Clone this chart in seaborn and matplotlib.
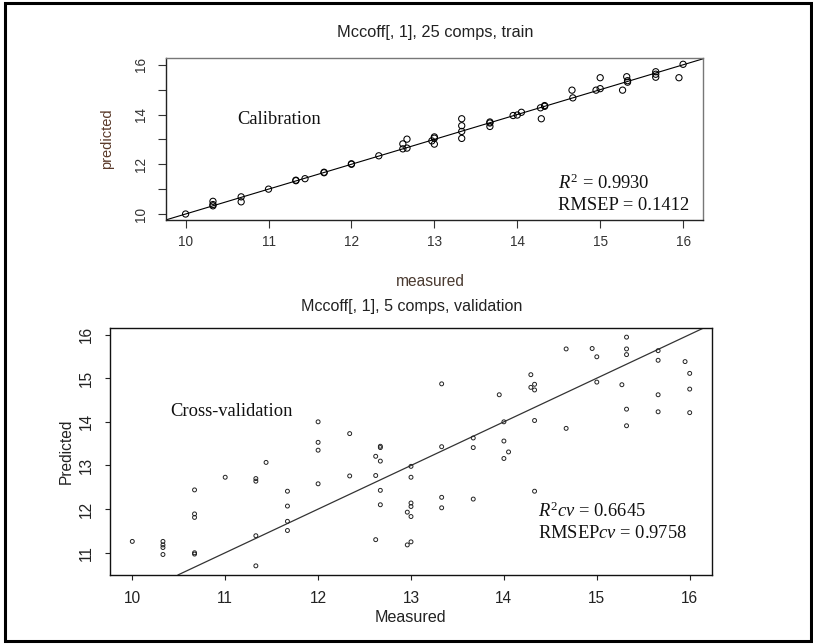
import numpy as np
import pandas as pd
import matplotlib
matplotlib.use("Agg")
import matplotlib.pyplot as plt
from matplotlib.patches import Rectangle
import seaborn as sns

# ---------------- data ----------------
cal_measured = [10.0, 10.33, 10.33, 10.33, 10.67, 10.67, 11.0, 11.33, 11.33, 11.44,
                11.67, 11.67, 12.0, 12.0, 12.33, 12.62, 12.62, 12.67, 12.67, 12.97,
                13.0, 13.0, 13.0, 13.33, 13.33, 13.33, 13.33, 13.67, 13.67, 13.67,
                13.95, 14.0, 14.05, 14.28, 14.33, 14.33, 14.29, 14.66, 14.67, 14.95,
                15.0, 15.0, 15.27, 15.32, 15.33, 15.33, 15.67, 15.67, 15.67, 15.95, 16.0]
cal_predicted = [10.0, 10.51, 10.33, 10.38, 10.69, 10.49, 11.0, 11.34, 11.36, 11.42,
                 11.68, 11.66, 12.0, 12.02, 12.34, 12.82, 12.62, 13.01, 12.65, 12.94,
                 13.05, 12.81, 13.1, 13.83, 13.55, 13.32, 13.04, 13.70, 13.52, 13.66,
                 13.96, 13.98, 14.09, 14.27, 14.36, 14.33, 13.83, 14.98, 14.67, 14.98,
                 15.04, 15.48, 14.98, 15.52, 15.36, 15.30, 15.72, 15.50, 15.62, 15.48, 16.02]

val_measured = [10.0,
                10.33, 10.33, 10.33, 10.33,
                10.67, 10.67, 10.67, 10.67, 10.67,
                11.0,
                11.33, 11.33, 11.33, 11.33,
                11.44,
                11.67, 11.67, 11.67, 11.67,
                12.0, 12.0, 12.0, 12.0,
                12.34, 12.34,
                12.62, 12.62, 12.62,
                12.67, 12.67, 12.67, 12.67, 12.67,
                13.0, 13.0, 13.0, 13.0, 13.0, 12.96, 13.0, 12.96,
                13.33, 13.33, 13.33, 13.33,
                13.67, 13.67, 13.67,
                13.95,
                14.0, 14.0, 14.0, 14.05,
                14.29, 14.33, 14.33, 14.29, 14.33, 14.33,
                14.67, 14.67,
                14.95, 15.0, 15.0,
                15.27,
                15.32, 15.32, 15.32, 15.32, 15.32,
                15.66, 15.66, 15.66, 15.66,
                15.95, 16.0, 16.0, 16.0]
val_predicted = [11.26,
                 11.26, 11.18, 11.12, 10.96,
                 12.44, 11.89, 11.81, 10.97, 11.00,
                 12.73,
                 12.70, 12.64, 11.39, 10.70,
                 13.07,
                 12.41, 12.07, 11.72, 11.51,
                 14.00, 13.53, 13.35, 12.58,
                 13.73, 12.76,
                 13.21, 12.77, 11.30,
                 13.44, 13.41, 13.10, 12.43, 12.10,
                 12.98, 12.73, 12.14, 12.06, 11.83, 11.93, 11.25, 11.18,
                 14.87, 13.43, 12.27, 12.03,
                 13.63, 13.41, 12.23,
                 14.62,
                 14.00, 13.56, 13.16, 13.31,
                 15.08, 14.86, 14.73, 14.79, 14.03, 12.41,
                 13.85, 15.67,
                 15.68, 15.49, 14.91,
                 14.85,
                 15.94, 15.67, 15.54, 14.29, 13.91,
                 15.63, 15.41, 14.62, 14.23,
                 15.38, 15.11, 14.75, 14.21]

x_ticks = [10, 11, 12, 13, 14, 15, 16]
cal_y_ticks = [10, 11, 12, 13, 14, 15, 16]
cal_y_labels = ["10", "", "12", "", "14", "", "16"]
val_y_ticks = [11, 12, 13, 14, 15, 16]

ref_intercept = 0.0
ref_slope = 1.0

cal_title = "Mccoff[, 1], 25 comps, train"
val_title = "Mccoff[, 1], 5 comps, validation"
cal_stats = [r"$R^2$ = 0.9930", "RMSEP = 0.1412"]
val_stats = [r"$R^2cv$ = 0.6645", r"RMSEP$cv$ = 0.9758"]

cal_df = pd.DataFrame({"measured": cal_measured, "predicted": cal_predicted})
val_df = pd.DataFrame({"measured": val_measured, "predicted": val_predicted})

# ---------------- style ----------------
sns.set_theme(style="ticks")
plt.rcParams["font.family"] = ["Liberation Sans", "DejaVu Sans"]
plt.rcParams["mathtext.fontset"] = "custom"
plt.rcParams["mathtext.rm"] = "Liberation Serif"
plt.rcParams["mathtext.it"] = "Liberation Serif:italic"
plt.rcParams["mathtext.bf"] = "Liberation Serif:bold"

W, H = 813, 644
fig = plt.figure(figsize=(W / 100, H / 100), dpi=100)
fig.patch.set_facecolor("white")


def fx(px):
    return px / W


def fy(py):
    return 1 - py / H


def r_lim(vals):
    lo, hi = min(vals), max(vals)
    r = hi - lo
    return lo - 0.04 * r, hi + 0.04 * r


# ---------------- top panel ----------------
ax1 = fig.add_axes([fx(165.7), fy(220), fx(703) - fx(165.7), fy(58.3) - fy(220)])
sns.scatterplot(data=cal_df, x="measured", y="predicted", ax=ax1, marker="o",
                s=20, facecolors="none", edgecolor="black", linewidth=0.75, zorder=3)
ax1.axline((10, ref_intercept + ref_slope * 10), slope=ref_slope, color="black",
           lw=0.8, zorder=2)
ax1.set_xlim(*r_lim(cal_measured))
ax1.set_ylim(*r_lim(cal_predicted))
ax1.set_xticks(x_ticks)
ax1.set_yticks(cal_y_ticks)
ax1.set_yticklabels(cal_y_labels, rotation=90, va="center")
ax1.set_xlabel("")
ax1.set_ylabel("")
ax1.tick_params(axis="both", direction="out", length=6, width=0.8, color="#333333",
                labelsize=9.8, labelcolor="#333333")
ax1.tick_params(axis="x", pad=5)
ax1.tick_params(axis="y", pad=7)
for side in ["left", "bottom"]:
    ax1.spines[side].set_color("#222222")
    ax1.spines[side].set_linewidth(1.0)
for side in ["top", "right"]:
    ax1.spines[side].set_visible(True)
    ax1.spines[side].set_color("#777777")
    ax1.spines[side].set_linewidth(1.0)

ax1.text(fx(237), fy(120), "Calibration", transform=fig.transFigure,
         family="Liberation Serif", fontsize=13.3, va="center", ha="left", color="#111111")
ax1.text(fx(558), fy(183), cal_stats[0], transform=fig.transFigure,
         family="Liberation Serif", fontsize=13.3, va="center", ha="left", color="#111111")
ax1.text(fx(558), fy(205), cal_stats[1], transform=fig.transFigure,
         family="Liberation Serif", fontsize=13.3, va="center", ha="left", color="#111111")

fig.text(fx(435), fy(33), cal_title, ha="center", va="center", fontsize=11.8, color="#222222")
fig.text(fx(430), fy(282), "measured", ha="center", va="center", fontsize=11.2, color="#4a3a30")
fig.text(fx(107), fy(139), "predicted", ha="center", va="center", rotation=90,
         fontsize=10.5, color="#5a3a2a")

# ---------------- bottom panel ----------------
ax2 = fig.add_axes([fx(110), fy(575), fx(712) - fx(110), fy(328) - fy(575)])
sns.scatterplot(data=val_df, x="measured", y="predicted", ax=ax2, marker="o",
                s=8, facecolors="none", edgecolor="#222222", linewidth=0.7, zorder=3)
ax2.axline((10, ref_intercept + ref_slope * 10), slope=ref_slope, color="#333333",
           lw=0.9, zorder=2)
ax2.set_xlim(*r_lim(val_measured))
ax2.set_ylim(*r_lim(val_predicted))
ax2.set_xticks(x_ticks)
ax2.set_yticks(val_y_ticks)
ax2.set_yticklabels([str(t) for t in val_y_ticks], rotation=90, va="center")
ax2.set_xlabel("")
ax2.set_ylabel("")
ax2.tick_params(axis="both", direction="out", length=3.5, width=0.8, color="#222222",
                labelsize=11.2, labelcolor="#222222")
ax2.tick_params(axis="x", pad=8)
ax2.tick_params(axis="y", pad=8)
for side in ["left", "bottom", "top", "right"]:
    ax2.spines[side].set_visible(True)
    ax2.spines[side].set_color("#111111")
    ax2.spines[side].set_linewidth(1.0)

ax2.text(fx(170), fy(411), "Cross-validation", transform=fig.transFigure,
         family="Liberation Serif", fontsize=13.3, va="center", ha="left", color="#111111")
ax2.text(fx(538), fy(511), val_stats[0], transform=fig.transFigure,
         family="Liberation Serif", fontsize=13.3, va="center", ha="left", color="#111111")
ax2.text(fx(538), fy(533), val_stats[1], transform=fig.transFigure,
         family="Liberation Serif", fontsize=13.3, va="center", ha="left", color="#111111")

fig.text(fx(412), fy(307), val_title, ha="center", va="center", fontsize=11.6, color="#222222")
fig.text(fx(410), fy(617), "Measured", ha="center", va="center", fontsize=11.6, color="#222222")
fig.text(fx(66), fy(451), "Predicted", ha="center", va="center", rotation=90,
         fontsize=11.2, color="#222222")

# ---------------- outer frame ----------------
fig.patches.append(Rectangle((fx(5), fy(641)), fx(811) - fx(5), fy(2.5) - fy(641),
                             transform=fig.transFigure, fill=False,
                             edgecolor="black", linewidth=2.2, zorder=10))

fig.savefig("out.png", dpi=100, facecolor="white")
